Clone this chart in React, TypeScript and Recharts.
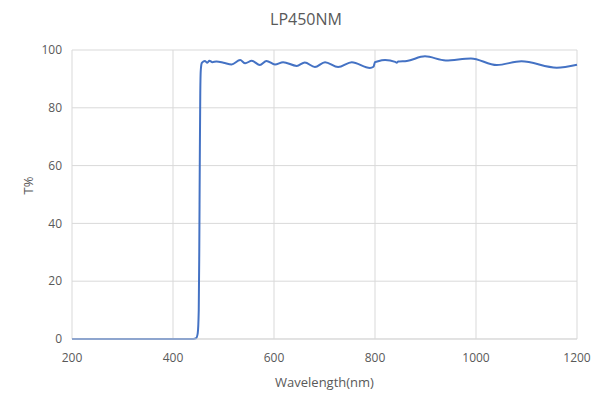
import { CartesianGrid, Line, LineChart, XAxis, YAxis } from "recharts";

const wavelengths = [
  200, 300, 400, 440, 446, 449, 451, 452, 453, 454, 455, 457, 460, 463, 468, 472, 478, 486,
  500, 516, 533, 543, 556, 572, 585, 602, 618, 645, 661, 681, 701, 727, 754, 790, 797, 800,
  804, 820, 840, 843, 846, 863, 899, 940, 990, 1041, 1090, 1160, 1200,
];
const transmission = [
  0, 0, 0, 0, 0.3, 2, 10, 30, 60, 85, 93, 95.5, 96, 96.2, 95.6, 96.3, 95.8, 96, 95.6, 95,
  96.5, 95.4, 96.3, 94.8, 96.2, 95, 95.8, 94.5, 95.7, 94.1, 95.8, 94.1, 95.8, 93.8, 94.2,
  95.8, 96, 96.5, 95.9, 95.6, 96, 96.2, 97.8, 96.4, 97.1, 94.8, 96.1, 93.9, 94.9,
];
const xTicks = [200, 400, 600, 800, 1000, 1200];
const yTicks = [0, 20, 40, 60, 80, 100];

const data = wavelengths.map((wl, i) => ({ wl, t: transmission[i] }));

const font = "'Open Sans', sans-serif";
const textColor = "#595959";

export default function App() {
  return (
    <div
      style={{
        position: "absolute",
        left: 0,
        top: 0,
        width: 606,
        height: 403,
        background: "#fff",
        fontFamily: font,
      }}
    >
      <div
        style={{
          position: "absolute",
          top: 8,
          left: 0,
          width: 612,
          textAlign: "center",
          fontSize: 16,
          color: textColor,
        }}
      >
        LP450NM
      </div>
      <LineChart
        width={606}
        height={403}
        data={data}
        margin={{ top: 50, right: 29, bottom: 34, left: 0 }}
      >
        <CartesianGrid stroke="#d9d9d9" horizontal vertical />
        <XAxis
          dataKey="wl"
          type="number"
          domain={[200, 1200]}
          ticks={xTicks}
          axisLine={{ stroke: "#d9d9d9" }}
          tickLine={false}
          tickMargin={8}
          height={30}
          tick={{ fill: textColor, fontSize: 12, fontFamily: font }}
          label={{
            value: "Wavelength(nm)",
            position: "bottom",
            offset: 9,
            fill: textColor,
            fontSize: 13,
            fontFamily: font,
          }}
        />
        <YAxis
          type="number"
          domain={[0, 100]}
          ticks={yTicks}
          axisLine={false}
          tickLine={false}
          width={72}
          tickMargin={4}
          tick={{ fill: textColor, fontSize: 12, fontFamily: font }}
          label={{
            value: "T%",
            angle: -90,
            position: "insideLeft",
            offset: 28,
            fill: textColor,
            fontSize: 13,
            fontFamily: font,
          }}
        />
        <Line
          dataKey="t"
          type="monotone"
          stroke="#4472c4"
          strokeWidth={2}
          dot={false}
          isAnimationActive={false}
        />
      </LineChart>
    </div>
  );
}
